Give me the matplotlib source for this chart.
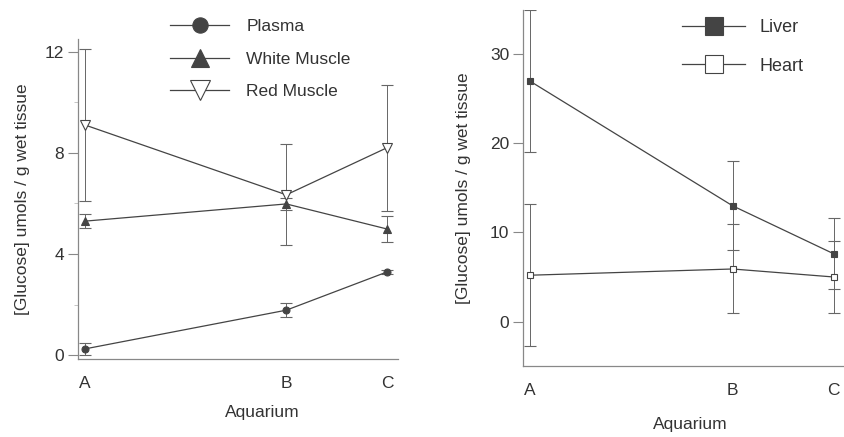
import matplotlib.pyplot as plt
from matplotlib.ticker import MultipleLocator

plt.rcParams["font.family"] = ["Liberation Sans", "DejaVu Sans"]

# aquaria and their spacing along the x axis
aquaria = ["A", "B", "C"]
aquarium_pos = [1, 3, 4]

# left panel: plasma and muscle glucose (mean, error)
plasma = [0.25, 1.78, 3.29]
plasma_err = [0.25, 0.27, 0.08]
white_muscle = [5.3, 5.98, 4.99]
white_muscle_err = [0.28, 0.25, 0.5]
red_muscle = [9.1, 6.34, 8.2]
red_muscle_err = [3.0, 2.0, 2.5]

# right panel: liver and heart glucose (mean, error)
liver = [27.0, 13.0, 7.6]
liver_err = [8.0, 5.0, 4.0]
heart = [5.2, 5.9, 5.0]
heart_err = [8.0, 5.0, 4.0]

ink = "#444444"
text_col = "#333333"
axis_col = "#888888"

W, H = 844, 437
fig = plt.figure(figsize=(W / 100, H / 100), dpi=100)
ax1 = fig.add_axes([78 / W, 1 - 359 / H, 320 / W, 320 / H])
ax2 = fig.add_axes([523 / W, 1 - 366 / H, 322 / W, 356 / H])


def draw(ax, y, err, marker, filled, ms=5):
    eb = ax.errorbar(
        aquarium_pos, y, yerr=err, fmt=marker + "-", color=ink, lw=0.9,
        ecolor="#666666", elinewidth=0.7, capsize=4, capthick=0.7,
        markersize=ms, mec=ink, mfc=ink if filled else "white", mew=0.8,
    )
    return eb[0]


h_plasma = draw(ax1, plasma, plasma_err, "o", True)
h_white = draw(ax1, white_muscle, white_muscle_err, "^", True, ms=6)
h_red = draw(ax1, red_muscle, red_muscle_err, "v", False, ms=6.5)

h_liver = draw(ax2, liver, liver_err, "s", True)
h_heart = draw(ax2, heart, heart_err, "s", False)

for ax in (ax1, ax2):
    for side in ("top", "right"):
        ax.spines[side].set_visible(False)
    for side in ("left", "bottom"):
        ax.spines[side].set_color(axis_col)
        ax.spines[side].set_linewidth(0.9)
    ax.set_xlim(0.93, 4.11)
    ax.set_xticks(aquarium_pos, aquaria)
    ax.tick_params(axis="x", length=0, pad=12, labelsize=12.5, labelcolor=text_col)
    ax.tick_params(axis="y", length=7, width=0.8, color=axis_col, pad=3,
                   labelsize=12.5, labelcolor=text_col)
    ax.set_xlabel("Aquarium", fontsize=12.5, color=text_col)
    ax.set_ylabel("[Glucose] umols / g wet tissue", fontsize=12.5, color=text_col)

ax1.set_ylim(-0.15, 12.5)
ax1.set_yticks([0, 4, 8, 12])
ax1.yaxis.set_minor_locator(MultipleLocator(2))
ax1.tick_params(axis="y", which="minor", length=3, width=0.6, color="#bbbbbb")
ax1.xaxis.set_label_coords(0.575, -0.145)
ax1.yaxis.set_label_coords(-0.15, 0.5)

ax2.set_ylim(-5, 35)
ax2.set_yticks([0, 10, 20, 30])
ax2.xaxis.set_label_coords(0.52, -0.142)
ax2.yaxis.set_label_coords(-0.16, 0.5)

leg_kw = dict(frameon=False, loc="upper left", bbox_transform=fig.transFigure,
              borderpad=0, borderaxespad=0, labelcolor=text_col)
ax1.legend([h_plasma, h_white, h_red], ["Plasma", "White Muscle", "Red Muscle"],
           bbox_to_anchor=(170 / W, 1 - 19 / H), markerscale=2.2,
           handlelength=3.4, handletextpad=1.0, labelspacing=1.0,
           fontsize=12.5, **leg_kw)
ax2.legend([h_liver, h_heart], ["Liver", "Heart"],
           bbox_to_anchor=(682 / W, 1 - 19 / H), markerscale=2.6,
           handlelength=3.5, handletextpad=0.8, labelspacing=1.2,
           fontsize=13, **leg_kw)

fig.savefig("out.png", dpi=100)
